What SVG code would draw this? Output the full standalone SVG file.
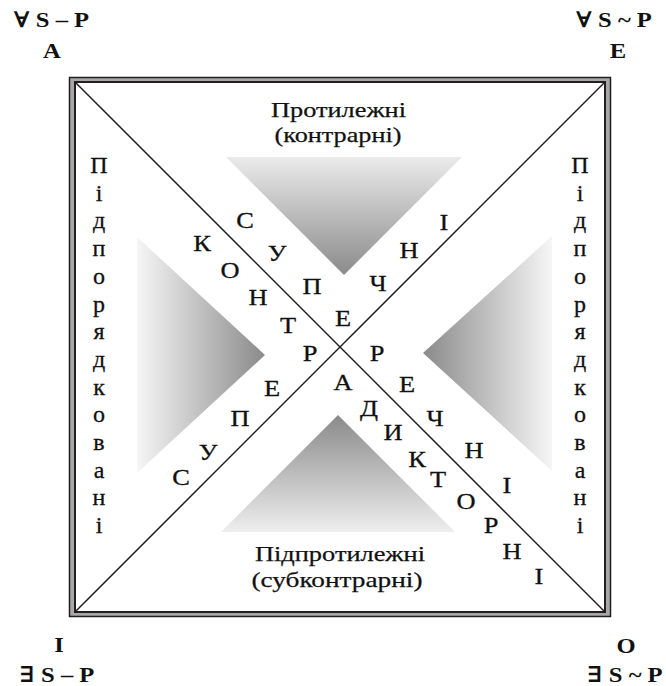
<svg xmlns="http://www.w3.org/2000/svg" width="666" height="686" viewBox="0 0 666 686">
<style>
.ln{stroke:#231f20;stroke-width:1.5;fill:none}
.dl{font-family:"Liberation Serif","Times New Roman",serif;font-size:24px;fill:#111;stroke:#111;stroke-width:0.3;text-anchor:middle}
.sd{font-family:"Liberation Serif","Times New Roman",serif;font-size:24px;fill:#111;stroke:#111;stroke-width:0.3;text-anchor:middle}
.tt{font-family:"Liberation Serif","Times New Roman",serif;font-size:22px;fill:#111;stroke:#111;stroke-width:0.25;text-anchor:middle}
.cn{font-family:"Liberation Serif","Times New Roman","DejaVu Serif",serif;font-size:22px;font-weight:bold;fill:#111;text-anchor:middle}
</style>
<defs>
<linearGradient id="gTop" x1="0" y1="0" x2="0" y2="1"><stop offset="0" stop-color="#ebebeb"/><stop offset="1" stop-color="#8a8a8a"/></linearGradient>
<linearGradient id="gBot" x1="0" y1="1" x2="0" y2="0"><stop offset="0" stop-color="#eeeeee"/><stop offset="1" stop-color="#8a8a8a"/></linearGradient>
<linearGradient id="gLeft" x1="0" y1="0" x2="1" y2="0"><stop offset="0" stop-color="#f6f6f6"/><stop offset="1" stop-color="#8a8a8a"/></linearGradient>
<linearGradient id="gRight" x1="1" y1="0" x2="0" y2="0"><stop offset="0" stop-color="#f6f6f6"/><stop offset="1" stop-color="#8a8a8a"/></linearGradient>
</defs>
<rect width="666" height="686" fill="#ffffff"/>

<g id="frame">
<rect x="69.5" y="77.5" width="541" height="539" fill="#a8a8a8" stroke="#231f20" stroke-width="1.5"/>
<rect x="75" y="82" width="530" height="530" fill="#ffffff" stroke="#231f20" stroke-width="2"/>
</g>

<g id="triangles">
<polygon points="226,157 462,157 344,275" fill="url(#gTop)"/>
<polygon points="221,532 455,532 338,415" fill="url(#gBot)"/>
<polygon points="137,237 265,355 137,473" fill="url(#gLeft)"/>
<polygon points="552,236 423,353 552,471" fill="url(#gRight)"/>
</g>

<g id="connectors">
<line class="ln" x1="75" y1="82" x2="605" y2="612"/>
<line class="ln" x1="605" y1="82" x2="75" y2="612"/>
</g>

<g id="node-A">
<text class="cn" transform="translate(51.5 27) scale(1.12 1)">∀ S – P</text>
<text class="cn" transform="translate(52 58) scale(1.12 1)">A</text>
</g>
<g id="node-E">
<text class="cn" transform="translate(614 27) scale(1.12 1)">∀ S ~ P</text>
<text class="cn" transform="translate(618 58) scale(1.12 1)">E</text>
</g>
<g id="node-I">
<text class="cn" transform="translate(59 652) scale(1.12 1)">I</text>
<text class="cn" transform="translate(57 682) scale(1.12 1)">∃ S – P</text>
</g>
<g id="node-O">
<text class="cn" transform="translate(626 653) scale(1.12 1)">O</text>
<text class="cn" transform="translate(625 682) scale(1.12 1)">∃ S ~ P</text>
</g>

<g id="label-contrary">
<text class="tt" x="338.5" y="117" textLength="135" lengthAdjust="spacingAndGlyphs">Протилежні</text>
<text class="tt" x="338" y="142" textLength="127" lengthAdjust="spacingAndGlyphs">(контрарні)</text>
</g>
<g id="label-subcontrary">
<text class="tt" x="340" y="561" textLength="170" lengthAdjust="spacingAndGlyphs">Підпротилежні</text>
<text class="tt" x="337" y="587" textLength="171" lengthAdjust="spacingAndGlyphs">(субконтрарні)</text>
</g>

<g id="label-subaltern-left">
<text class="sd" x="99" y="173">П<tspan x="99" dy="27.7">і</tspan><tspan x="99" dy="27.7">д</tspan><tspan x="99" dy="27.7">п</tspan><tspan x="99" dy="27.7">о</tspan><tspan x="99" dy="27.7">р</tspan><tspan x="99" dy="27.7">я</tspan><tspan x="99" dy="27.7">д</tspan><tspan x="99" dy="27.7">к</tspan><tspan x="99" dy="27.7">о</tspan><tspan x="99" dy="27.7">в</tspan><tspan x="99" dy="27.7">а</tspan><tspan x="99" dy="27.7">н</tspan><tspan x="99" dy="27.7">і</tspan></text>
</g>
<g id="label-subaltern-right">
<text class="sd" x="580" y="173">П<tspan x="580" dy="27.7">і</tspan><tspan x="580" dy="27.7">д</tspan><tspan x="580" dy="27.7">п</tspan><tspan x="580" dy="27.7">о</tspan><tspan x="580" dy="27.7">р</tspan><tspan x="580" dy="27.7">я</tspan><tspan x="580" dy="27.7">д</tspan><tspan x="580" dy="27.7">к</tspan><tspan x="580" dy="27.7">о</tspan><tspan x="580" dy="27.7">в</tspan><tspan x="580" dy="27.7">а</tspan><tspan x="580" dy="27.7">н</tspan><tspan x="580" dy="27.7">і</tspan></text>
</g>

<g id="label-contradictory">
<text class="dl" transform="translate(202 251) scale(1.1 1)">К</text>
<text class="dl" transform="translate(230 278) scale(1.1 1)">О</text>
<text class="dl" transform="translate(258 305) scale(1.1 1)">Н</text>
<text class="dl" transform="translate(288 333) scale(1.1 1)">Т</text>
<text class="dl" transform="translate(310 361) scale(1.1 1)">Р</text>
<text class="dl" transform="translate(343 390) scale(1.1 1)">А</text>
<text class="dl" transform="translate(369 416) scale(1.1 1)">Д</text>
<text class="dl" transform="translate(393 440) scale(1.1 1)">И</text>
<text class="dl" transform="translate(417 467) scale(1.1 1)">К</text>
<text class="dl" transform="translate(438 487) scale(1.1 1)">Т</text>
<text class="dl" transform="translate(466 509) scale(1.1 1)">О</text>
<text class="dl" transform="translate(491 533) scale(1.1 1)">Р</text>
<text class="dl" transform="translate(512 559) scale(1.1 1)">Н</text>
<text class="dl" transform="translate(539 584) scale(1.1 1)">І</text>
</g>

<g id="label-contrary-diag">
<text class="dl" transform="translate(245 228) scale(1.1 1)">С</text>
<text class="dl" transform="translate(277 261) scale(1.1 1)">У</text>
<text class="dl" transform="translate(312 294) scale(1.1 1)">П</text>
<text class="dl" transform="translate(343 326) scale(1.1 1)">Е</text>
<text class="dl" transform="translate(377 361) scale(1.1 1)">Р</text>
<text class="dl" transform="translate(407 392) scale(1.1 1)">Е</text>
<text class="dl" transform="translate(435 426) scale(1.1 1)">Ч</text>
<text class="dl" transform="translate(474 458) scale(1.1 1)">Н</text>
<text class="dl" transform="translate(507 493) scale(1.1 1)">І</text>
</g>

<g id="label-contrary-diag2">
<text class="dl" transform="translate(181 485) scale(1.1 1)">С</text>
<text class="dl" transform="translate(208 460) scale(1.1 1)">У</text>
<text class="dl" transform="translate(240 426) scale(1.1 1)">П</text>
<text class="dl" transform="translate(272 396) scale(1.1 1)">Е</text>
<text class="dl" transform="translate(378 291) scale(1.1 1)">Ч</text>
<text class="dl" transform="translate(409 258) scale(1.1 1)">Н</text>
<text class="dl" transform="translate(444 230) scale(1.1 1)">І</text>
</g>
</svg>
